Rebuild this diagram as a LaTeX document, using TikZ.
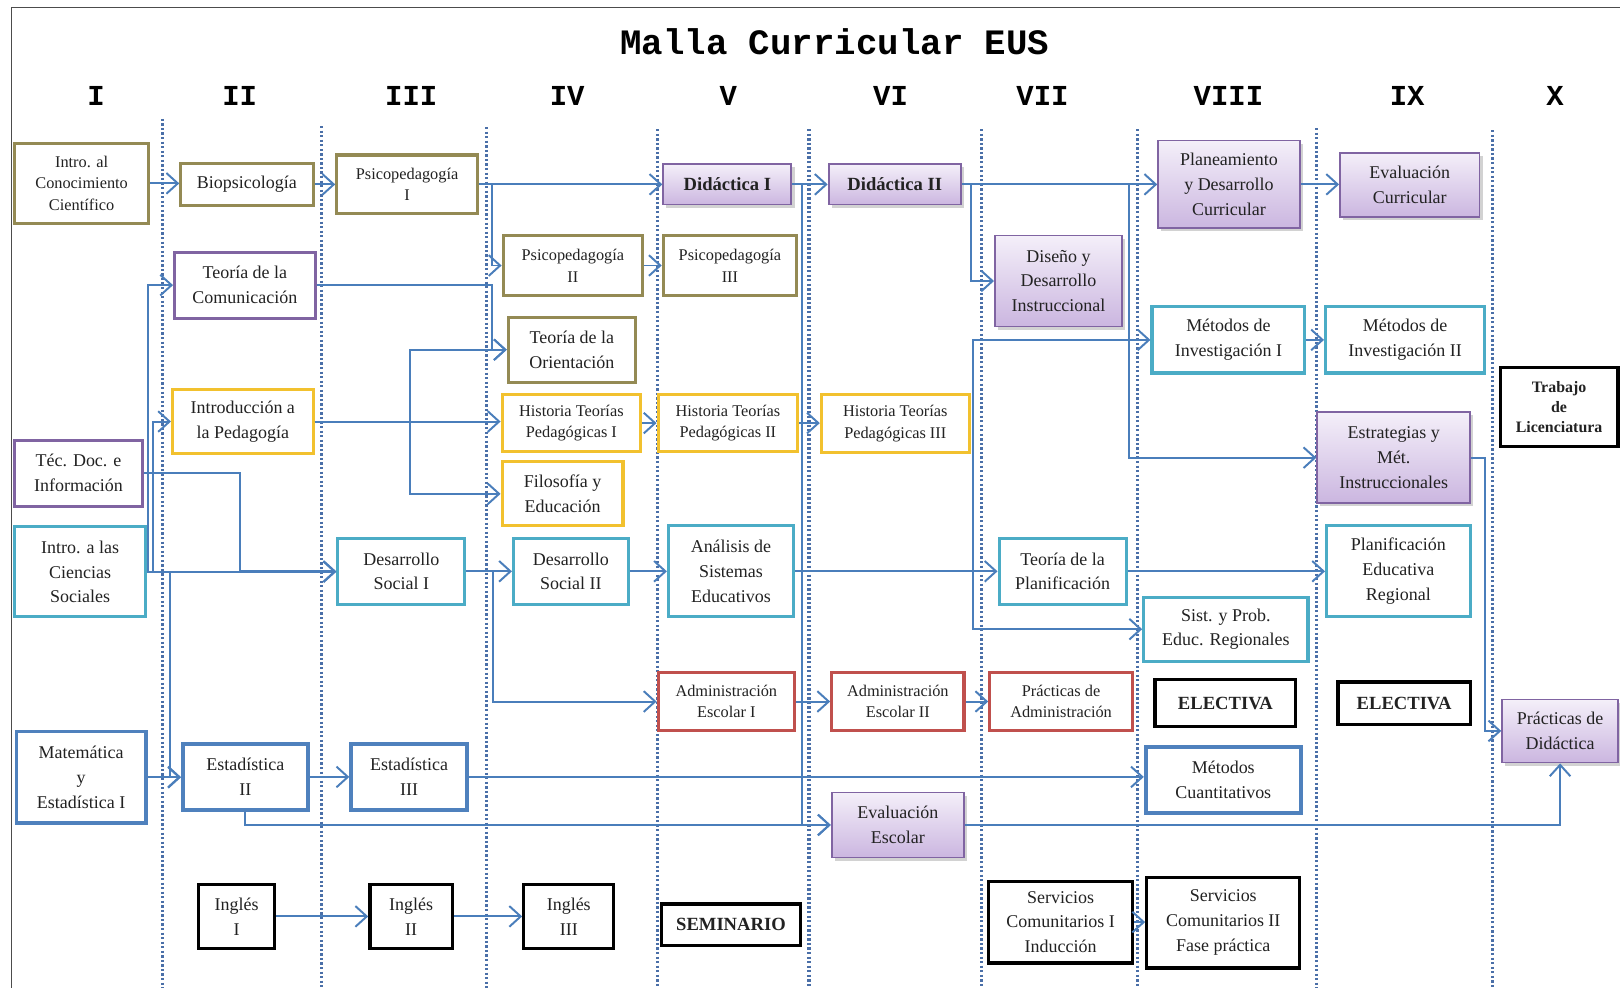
\documentclass[tikz,border=0pt]{standalone}
\usepackage{fontspec}
\setmainfont{Liberation Serif}
\newfontfamily\monofam{Liberation Mono}
\usetikzlibrary{arrows.meta,shadows}
\definecolor{cOlive}{HTML}{948A54}
\definecolor{cPurple}{HTML}{8064A2}
\definecolor{cGold}{HTML}{F2C12E}
\definecolor{cTeal}{HTML}{4BACC6}
\definecolor{cBlue}{HTML}{4F81BD}
\definecolor{cRed}{HTML}{C0504D}
\definecolor{cLine}{HTML}{4A7EBB}
\definecolor{cSep}{HTML}{4A6FA8}
\definecolor{cFillTop}{HTML}{F4EFF9}
\definecolor{cFillBot}{HTML}{CBB6E0}
\definecolor{cText}{HTML}{222222}
\newcommand{\mkbox}[7]{%
  \pgfmathsetmacro{\bxw}{(#5-#3)*0.5}%
  \pgfmathsetmacro{\bxh}{(#6-#4)*0.5}%
  \node[#2, minimum width=\bxw pt, minimum height=\bxh pt] (#1) at ({(#3+#5)/2},{(#4+#6)/2}) {#7};}
\begin{document}
\begin{tikzpicture}[x=0.5pt,y=-0.5pt,
  box/.style={rectangle, draw, inner sep=0pt, align=center, line width=1.5pt, text=cText, font=\fontsize{8.7}{12}\selectfont},
  sm/.style={font=\fontsize{7.9}{10.5}\selectfont},
  ol/.style={box, draw=cOlive},
  pu/.style={box, draw=cPurple},
  go/.style={box, draw=cGold},
  te/.style={box, draw=cTeal},
  bl/.style={box, draw=cBlue, line width=1.9pt},
  re/.style={box, draw=cRed},
  bk/.style={box, draw=black, line width=1.6pt},
  pf/.style={box, draw=cPurple, line width=0.9pt, top color=cFillTop, bottom color=cFillBot, drop shadow={shadow xshift=1.5pt, shadow yshift=-1.5pt, opacity=0.35}},
  bd/.style={font=\fontsize{9}{11}\selectfont\bfseries},
  con/.style={draw=cLine, line width=0.95pt, -{Straight Barb[length=5.5pt,width=10pt]}},
  sep/.style={draw=cSep, line width=1.5pt, dash pattern=on 1.1pt off 1.1pt},
  hdr/.style={font=\monofam\fontsize{14}{14}\selectfont\bfseries}
]
\fill[white] (0,0) rectangle (1568,956);
\useasboundingbox (0,0) rectangle (1568,956);
\draw[black!70, line width=0.6pt] (11,960) -- (11,7) -- (1570,7);

% title and headers
\node[font=\monofam\fontsize{17.3}{18}\selectfont\bfseries] (title) at (808,40) {Malla Curricular EUS};
\node[hdr] (h1) at (93,93) {I};
\node[hdr] (h2) at (232,93) {II};
\node[hdr] (h3) at (398,93) {III};
\node[hdr] (h4) at (549,93) {IV};
\node[hdr] (h5) at (705,93) {V};
\node[hdr] (h6) at (862,93) {VI};
\node[hdr] (h7) at (1009,93) {VII};
\node[hdr] (h8) at (1189,93) {VIII};
\node[hdr] (h9) at (1362,93) {IX};
\node[hdr] (h10) at (1505,93) {X};

% separators
\draw[sep] (157,115) -- (157,956);
\draw[sep] (311,122) -- (311,956);
\draw[sep] (471,123) -- (471,956);
\draw[sep] (636,125) -- (636,956);
\draw[sep] (783,125) -- (783,956);
\draw[sep] (950,125) -- (950,956);
\draw[sep] (1101,125) -- (1101,956);
\draw[sep] (1274,124) -- (1274,956);
\draw[sep] (1445,126) -- (1445,956);

% Column I
\mkbox{intro}{ol,sm}{14}{139}{144}{216}{Intro. al\\Conocimiento\\Científico}
\mkbox{tecdoc}{pu}{14}{426}{138}{490}{Téc. Doc. e\\Información}
\mkbox{ciencias}{te}{14}{510}{141}{597}{Intro. a las\\Ciencias\\Sociales}
\mkbox{mate}{bl}{16}{708}{141}{797}{Matemática\\y\\Estadística I}
% Column II
\mkbox{bio}{ol}{175}{158}{303}{199}{Biopsicología}
\mkbox{tcom}{pu}{169}{244}{305}{308}{Teoría de la\\Comunicación}
\mkbox{iped}{go}{167}{377}{303}{439}{Introducción a\\la Pedagogía}
\mkbox{est2}{bl}{177}{720}{298}{784}{Estadística\\II}
\mkbox{ing1}{bk}{192}{856}{266}{918}{Inglés\\I}
% Column III
\mkbox{psi1}{ol,sm}{326}{150}{462}{207}{Psicopedagogía\\I}
\mkbox{ds1}{te}{327}{521}{450}{585}{Desarrollo\\Social I}
\mkbox{est3}{bl}{340}{720}{452}{784}{Estadística\\III}
\mkbox{ing2}{bk}{358}{856}{438}{918}{Inglés\\II}
% Column IV
\mkbox{psi2}{ol,sm}{487}{228}{622}{286}{Psicopedagogía\\II}
\mkbox{tori}{ol}{492}{307}{615}{370}{Teoría de la\\Orientación}
\mkbox{ht1}{go,sm}{486}{382}{620}{437}{Historia Teorías\\Pedagógicas I}
\mkbox{filo}{go}{486}{447}{603}{509}{Filosofía y\\Educación}
\mkbox{ds2}{te}{497}{521}{608}{585}{Desarrollo\\Social II}
\mkbox{ing3}{bk}{507}{856}{594}{918}{Inglés\\III}
% Column V
\mkbox{did1}{pf,bd}{642}{159}{766}{198}{Didáctica I}
\mkbox{psi3}{ol,sm}{642}{228}{771}{286}{Psicopedagogía\\III}
\mkbox{ht2}{go,sm}{637}{382}{772}{437}{Historia Teorías\\Pedagógicas II}
\mkbox{ase}{te}{647}{509}{768}{597}{Análisis de\\Sistemas\\Educativos}
\mkbox{adm1}{re,sm}{637}{651}{769}{707}{Administración\\Escolar I}
\mkbox{sem}{bk,bd}{640}{875}{775}{915}{SEMINARIO}
% Column VI
\mkbox{did2}{pf,bd}{802}{159}{930}{198}{Didáctica II}
\mkbox{ht3}{go,sm}{795}{382}{938}{438}{Historia Teorías\\Pedagógicas III}
\mkbox{adm2}{re,sm}{805}{651}{933}{707}{Administración\\Escolar II}
\mkbox{evesc}{pf}{805}{767}{933}{830}{Evaluación\\Escolar}
% Column VII
\mkbox{ddi}{pf}{963}{228}{1086}{316}{Diseño y\\Desarrollo\\Instruccional}
\mkbox{tpla}{te}{967}{521}{1090}{585}{Teoría de la\\Planificación}
\mkbox{padm}{re,sm}{958}{651}{1096}{707}{Prácticas de\\Administración}
\mkbox{sc1}{bk}{957}{853}{1096}{932}{Servicios\\Comunitarios I\\Inducción}
% Column VIII
\mkbox{pdc}{pf}{1121}{136}{1258}{221}{Planeamiento\\y Desarrollo\\Curricular}
\mkbox{mi1}{te}{1115}{297}{1263}{361}{Métodos de\\Investigación I}
\mkbox{spe}{te}{1107}{578}{1266}{640}{Sist. y Prob.\\Educ. Regionales}
\mkbox{el1}{bk,bd}{1118}{658}{1254}{703}{ELECTIVA}
\mkbox{mcu}{bl}{1109}{723}{1259}{787}{Métodos\\Cuantitativos}
\mkbox{sc2}{bk}{1110}{849}{1258}{937}{Servicios\\Comunitarios II\\Fase práctica}
% Column IX
\mkbox{evc}{pf}{1297}{148}{1432}{210}{Evaluación\\Curricular}
\mkbox{mi2}{te}{1283}{297}{1437}{361}{Métodos de\\Investigación II}
\mkbox{emi}{pf}{1275}{399}{1423}{487}{Estrategias y\\Mét.\\Instruccionales}
\mkbox{per}{te}{1284}{509}{1423}{597}{Planificación\\Educativa\\Regional}
\mkbox{el2}{bk,bd}{1295}{660}{1423}{701}{ELECTIVA}
% Column X
\mkbox{tlic}{bk,font=\fontsize{7.7}{9.8}\selectfont\bfseries}{1452}{356}{1566}{432}{Trabajo\\de\\Licenciatura}
\mkbox{pdid}{pf}{1454}{677}{1566}{738}{Prácticas de\\Didáctica}

% trunk coordinates
\coordinate (tA) at (476,0);
\coordinate (tB) at (397,0);
\coordinate (tC) at (143,0);
\coordinate (tD) at (148,0);
\coordinate (tE) at (232,0);
\coordinate (tF) at (165,0);
\coordinate (tG) at (477,0);
\coordinate (tH) at (776,0);
\coordinate (tI) at (940,0);
\coordinate (tJ) at (1093,0);
\coordinate (tK) at (942,0);
\coordinate (tL) at (1437,0);

% connectors
\draw[con] (intro.east) -- (intro.east -| bio.west);
\draw[con] (bio.east) -- (bio.east -| psi1.west);
\draw[con] (psi1.east) -- (psi1.east -| did1.west);
\draw[con] (psi1.east) -| (tA |- psi2.west) -- (psi2.west);
\draw[con] (tcom.east) -| (tA |- tori.west) -- (tori.west);
\draw[con] (iped.east) -- (iped.east -| ht1.west);
\draw[con] (iped.east) -| (tB |- tori.west) -- (tori.west);
\draw[con] (iped.east) -| (tB |- filo.west) -- (filo.west);
\draw[con] (ciencias.east) -| (tC |- tcom.west) -- (tcom.west);
\draw[con] (ciencias.east) -| (tD |- iped.west) -- (iped.west);
\draw[con] (ciencias.east) -- (ciencias.east -| ds1.west);
\draw[con] (tecdoc.east) -| (tE |- ds1.west) -- (ds1.west);
\draw[con] (ciencias.east) -| (tF |- est2.west) -- (est2.west);
\draw[con] (mate.east) -- (mate.east -| est2.west);
\draw[con] (est2.east) -- (est2.east -| est3.west);
\draw[con] (est3.east) -- (est3.east -| mcu.west);
\draw[con] (est2.south) |- (evesc.west);
\draw[con] (evesc.east) -| (pdid.south);
\draw[con] (ing1.east) -- (ing1.east -| ing2.west);
\draw[con] (ing2.east) -- (ing2.east -| ing3.west);
\draw[con] (ds1.east) -- (ds1.east -| ds2.west);
\draw[con] (ds2.east) -- (ds2.east -| ase.west);
\draw[con] (ds1.east) -| (tG |- adm1.west) -- (adm1.west);
\draw[con] (psi2.east) -- (psi2.east -| psi3.west);
\draw[con] (ht1.east) -- (ht1.east -| ht2.west);
\draw[con] (ht2.east) -- (ht2.east -| ht3.west);
\draw[con] (did1.east) -- (did1.east -| did2.west);
\draw[con] (did1.east) -| (tH |- evesc.west) -- (evesc.west);
\draw[con] (adm1.east) -- (adm1.east -| adm2.west);
\draw[con] (adm2.east) -- (adm2.east -| padm.west);
\draw[con] (did2.east) -- (did2.east -| pdc.west);
\draw[con] (did2.east) -| (tI |- ddi.west) -- (ddi.west);
\draw[con] (did2.east) -| (tJ |- emi.west) -- (emi.west);
\draw[con] (ase.east) -- (ase.east -| tpla.west);
\draw[con] (ase.east) -| (tK |- mi1.west) -- (mi1.west);
\draw[con] (ase.east) -| (tK |- spe.west) -- (spe.west);
\draw[con] (tpla.east) -- (tpla.east -| per.west);
\draw[con] (mi1.east) -- (mi1.east -| mi2.west);
\draw[con] (pdc.east) -- (pdc.east -| evc.west);
\draw[con] (emi.east) -| (tL |- pdid.west) -- (pdid.west);
\draw[con] (sc1.east) -- (sc1.east -| sc2.west);
\end{tikzpicture}
\end{document}
